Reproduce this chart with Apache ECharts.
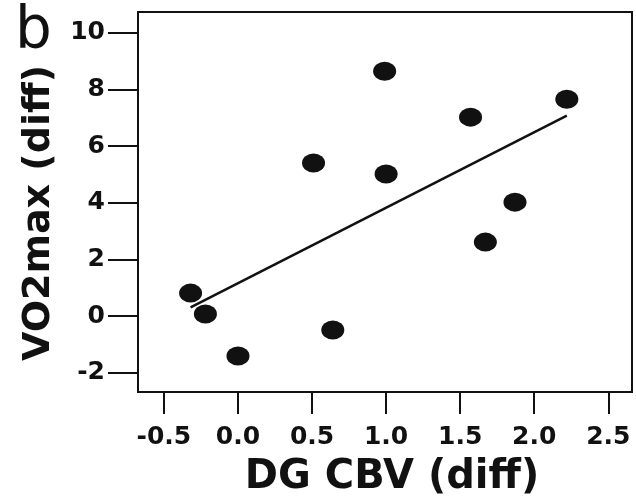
<!DOCTYPE html>
<html>
<head>
<meta charset="utf-8">
<script src="https://cdn.jsdelivr.net/npm/echarts@6/dist/echarts.min.js"></script>
<style>
html,body{margin:0;padding:0;background:#fff;}
#chart{width:636px;height:499px;}
</style>
</head>
<body>
<div id="chart"></div>
<script>
// Data
const dgCbv = [-0.32, -0.22, 0.00, 0.64, 0.51, 1.00, 0.99, 1.57, 1.67, 1.87, 2.22];
const vo2max = [0.81, 0.07, -1.41, -0.49, 5.40, 5.01, 8.64, 7.02, 2.61, 4.02, 7.65];
const fitX = [-0.32, 2.22];
const fitY = [0.31, 7.07];
const xTicks = [-0.5, 0, 0.5, 1.0, 1.5, 2.0, 2.5];
const yTicks = [-2, 0, 2, 4, 6, 8, 10];
const xName = 'DG CBV (diff)';
const yName = 'VO2max (diff)';
const panelLabel = 'b';

const font = 'DejaVu Sans';
const ink = '#111';

const chart = echarts.init(document.getElementById('chart'));
chart.setOption({
  animation: false,
  backgroundColor: '#fff',
  title: {
    text: panelLabel,
    left: 10,
    top: -1,
    textStyle: {fontFamily: font, fontSize: 58, fontWeight: 'normal', color: ink}
  },
  grid: {
    left: 138, right: 4, top: 12, bottom: 107,
    containLabel: false,
    outerBoundsMode: 'none',
    show: true, borderColor: ink, borderWidth: 2, backgroundColor: 'transparent'
  },
  xAxis: {
    type: 'value',
    min: -0.675, max: 2.66,
    splitLine: {show: false},
    axisLine: {show: true, onZero: false, lineStyle: {color: ink, width: 2}},
    axisTick: {show: true, length: 22, lineStyle: {color: ink, width: 2}, customValues: xTicks},
    axisLabel: {
      customValues: xTicks, margin: 33,
      fontFamily: font, fontSize: 25, fontWeight: 'bold', color: ink,
      formatter: v => v.toFixed(1)
    },
    name: xName, nameLocation: 'middle', nameGap: 66,
    nameTextStyle: {fontFamily: font, fontSize: 40, fontWeight: 'bold', color: ink, padding: [0, 0, 0, 14]}
  },
  yAxis: {
    type: 'value',
    min: -2.68, max: 10.73,
    splitLine: {show: false},
    axisLine: {show: true, onZero: false, lineStyle: {color: ink, width: 2}},
    axisTick: {show: true, length: 30, lineStyle: {color: ink, width: 2}, customValues: yTicks},
    axisLabel: {
      customValues: yTicks, margin: 33,
      fontFamily: font, fontSize: 25, fontWeight: 'bold', color: ink,
      formatter: v => String(v)
    },
    name: yName, nameLocation: 'middle', nameGap: 80,
    nameTextStyle: {fontFamily: font, fontSize: 38, fontWeight: 'bold', color: ink, padding: [0, 22, 0, 0]}
  },
  series: [
    {
      type: 'line',
      data: fitX.map((x, i) => [x, fitY[i]]),
      showSymbol: false,
      lineStyle: {color: ink, width: 2.5},
      z: 2
    },
    {
      type: 'scatter',
      data: dgCbv.map((x, i) => [x, vo2max[i]]),
      symbol: 'path://M0,10A10,10,0,1,1,20,10A10,10,0,1,1,0,10Z',
      symbolSize: [23, 19],
      symbolKeepAspect: false,
      itemStyle: {color: ink, opacity: 1},
      z: 3
    }
  ]
});
</script>
</body>
</html>
